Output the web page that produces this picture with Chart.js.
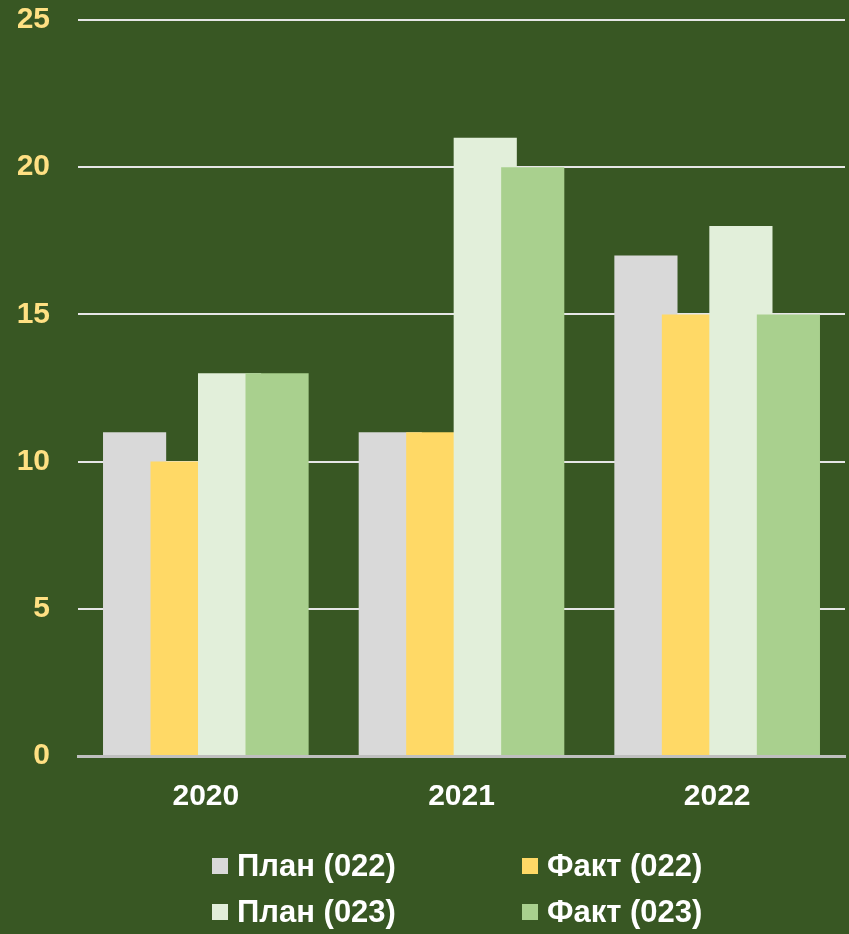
<!DOCTYPE html>
<html>
<head>
<meta charset="utf-8">
<script src="https://cdn.jsdelivr.net/npm/chart.js@4/dist/chart.umd.min.js"></script>
<style>
  html, body { margin: 0; padding: 0; background: #385723; }
  #wrap { position: relative; width: 849px; height: 934px; }
  #legend { position: absolute; left: 0; top: 0; width: 849px; height: 934px; pointer-events: none; }
  .item { position: absolute; display: flex; align-items: center; color: #fff;
          font: bold 31px "Liberation Sans", Arial, sans-serif; white-space: nowrap; }
  .box { width: 16px; height: 16px; margin-right: 9px; }
</style>
</head>
<body>
<div id="wrap">
  <canvas id="chart" width="849" height="934"></canvas>
  <div id="legend"></div>
</div>
<script>
const years = ['2020', '2021', '2022'];
const plan22 = [11, 11, 17];
const fact22 = [10, 11, 15];
const plan23 = [13, 21, 18];
const fact23 = [13, 20, 15];
const seriesNames = ['План (022)', 'Факт (022)', 'План (023)', 'Факт (023)'];
const seriesColors = ['#D9D9D9', '#FFD966', '#E2EFDA', '#A9D08E'];
const yTicks = [0, 5, 10, 15, 20, 25];

Chart.defaults.font.family = '"Liberation Sans", Arial, sans-serif';

// later series overlap earlier ones, so draw them in index order
const drawInOrder = {
    id: 'drawInOrder',
    beforeDatasetsDraw(chart) {
        chart.getSortedVisibleDatasetMetas().slice()
            .sort((a, b) => a.index - b.index)
            .forEach(meta => meta.controller.draw());
        return false;
    }
};

const ctx = document.getElementById('chart').getContext('2d');
new Chart(ctx, {
    type: 'bar',
    data: {
        labels: years,
        datasets: [plan22, fact22, plan23, fact23].map((d, i) => ({
            label: seriesNames[i],
            data: d,
            backgroundColor: seriesColors[i],
            barPercentage: 1.33,
            categoryPercentage: 0.743
        }))
    },
    options: {
        responsive: false,
        animation: false,
        layout: { padding: { top: 0, left: 18, right: 4, bottom: 104 } },
        plugins: { legend: { display: false }, tooltip: { enabled: false } },
        scales: {
            x: {
                grid: { display: false },
                border: { color: '#BFBFBF', width: 3, z: 1 },
                ticks: { color: '#FFFFFF', font: { size: 30, weight: 'bold' }, padding: 15 }
            },
            y: {
                min: 0, max: 25,
                afterBuildTicks: axis => { axis.ticks = yTicks.map(v => ({ value: v })); },
                afterFit: axis => { axis.width = 60; axis.paddingTop = 20; axis.paddingBottom = 0; },
                grid: { color: c => c.tick && c.tick.value === 0 ? 'transparent' : '#E6E6E6', lineWidth: 2, drawTicks: false },
                border: { display: false },
                ticks: { color: '#FFE083', font: { size: 30, weight: 'bold' }, padding: 28 }
            }
        }
    },
    plugins: [drawInOrder]
});

// legend in two columns under the chart
const legendPos = [[212, 866], [522, 866], [212, 912], [522, 912]];
const legend = document.getElementById('legend');
seriesNames.forEach((name, i) => {
    const el = document.createElement('div');
    el.className = 'item';
    el.style.left = legendPos[i][0] + 'px';
    el.style.top = (legendPos[i][1] - 18) + 'px';
    el.innerHTML = '<span class="box" style="background:' + seriesColors[i] + '"></span><span>' + name + '</span>';
    legend.appendChild(el);
});
</script>
</body>
</html>
